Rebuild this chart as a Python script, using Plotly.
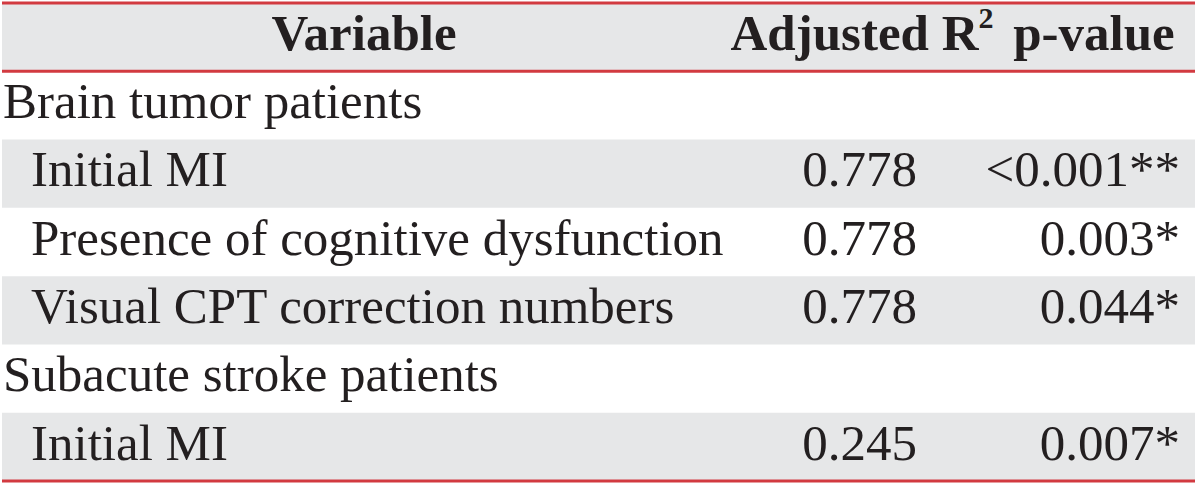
import plotly.graph_objects as go

# ---- data ----
headers = ["Variable", "Adjusted R<sup><span style='font-size:30px'>2</span></sup>", "p-value"]
variables = ["Brain tumor patients", "Initial MI", "Presence of cognitive dysfunction",
             "Visual CPT correction numbers", "Subacute stroke patients", "Initial MI"]
is_group = [True, False, False, False, True, False]
adj_r2 = [None, "0.778", "0.778", "0.778", None, "0.245"]
p_values = [None, "<0.001**", "0.003*", "0.044*", None, "0.007*"]

# ---- style ----
FONT = "Liberation Serif"
FS = 51
TXT = "#231f20"
GRAY = "#e6e7e8"
RED = "#d23a40"
X_LEFT, X_RIGHT = 2, 1195
ROW_PX = 68.3
n = len(variables)
rows = list(range(1, n + 1))

fig = go.Figure()

shapes = []
shapes.append(dict(type="rect", xref="x", yref="y", x0=X_LEFT, x1=X_RIGHT, y0=-0.5, y1=0.5,
                   fillcolor=GRAY, line_width=0, layer="below"))
for i in range(n):
    r = i + 1
    if i % 2 == 1:
        shapes.append(dict(type="rect", xref="x", yref="y", x0=X_LEFT, x1=X_RIGHT,
                           y0=r - 0.5, y1=r + 0.5, fillcolor=GRAY, line_width=0, layer="below"))
for yy in (-0.5, 0.5, n + 0.5):
    shapes.append(dict(type="line", xref="x", yref="y", x0=X_LEFT, x1=X_RIGHT, y0=yy, y1=yy,
                       line=dict(color=RED, width=3)))

tf = dict(family=FONT, size=FS, color=TXT)

# header
fig.add_trace(go.Scatter(x=[364, 862, 1094], y=[0, 0, 0], mode="text",
                         text=["<b>%s</b>" % h for h in headers], textposition="middle center",
                         textfont=tf, hoverinfo="skip", cliponaxis=False))
# variable labels
fig.add_trace(go.Scatter(x=[3 if g else 31 for g in is_group], y=rows, mode="text",
                         text=variables, textposition="middle right",
                         textfont=tf, hoverinfo="skip", cliponaxis=False))
r2_rows = [r for r, v in zip(rows, adj_r2) if v is not None]
fig.add_trace(go.Scatter(x=[917] * len(r2_rows), y=r2_rows, mode="text",
                         text=[v for v in adj_r2 if v is not None],
                         textposition="middle left", textfont=tf, hoverinfo="skip",
                         cliponaxis=False))
p_rows = [r for r, v in zip(rows, p_values) if v is not None]
fig.add_trace(go.Scatter(x=[1180] * len(p_rows), y=p_rows, mode="text",
                         text=[v for v in p_values if v is not None],
                         textposition="middle left", textfont=tf, hoverinfo="skip",
                         cliponaxis=False))

top = -0.5 - 3 / ROW_PX
bottom = n + 0.5 + 5 / ROW_PX
fig.update_layout(width=1200, height=486, margin=dict(l=0, r=0, t=0, b=0),
                  paper_bgcolor="white", plot_bgcolor="white", showlegend=False,
                  shapes=shapes,
                  xaxis=dict(range=[0, 1200], visible=False, fixedrange=True),
                  yaxis=dict(range=[bottom, top], visible=False, fixedrange=True))
fig.write_html("out.html", config={"displayModeBar": False},
               post_script="document.body.style.margin='0';document.body.style.overflow='hidden';")
